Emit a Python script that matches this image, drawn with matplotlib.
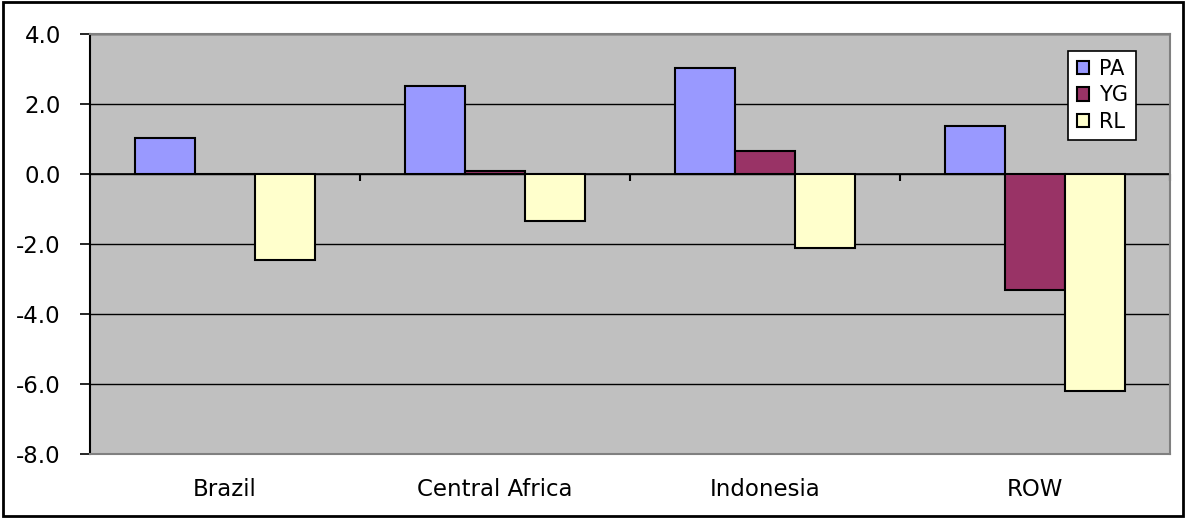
import matplotlib
matplotlib.use("Agg")
import matplotlib.pyplot as plt
import matplotlib.patches as mpatches
import numpy as np

regions = ["Brazil", "Central Africa", "Indonesia", "ROW"]
pa = [1.03, 2.52, 3.03, 1.37]
yg = [0.0, 0.10, 0.65, -3.31]
rl = [-2.46, -1.34, -2.11, -6.19]

series = [("PA", pa, "#9999FF"), ("YG", yg, "#993366"), ("RL", rl, "#FFFFCC")]
yticks = [-8.0, -6.0, -4.0, -2.0, 0.0, 2.0, 4.0]

plt.rcParams['font.family'] = ['DejaVu Sans']

fig = plt.figure(figsize=(11.86, 5.18), dpi=100)
ax = fig.add_axes([90 / 1186, 64 / 518, 1080 / 1186, 420 / 518])
ax.set_facecolor("#C0C0C0")

x = np.arange(len(regions))
w = 2 / 9
for i, (name, vals, col) in enumerate(series):
    ax.bar(x + (i - 1) * w, vals, w, color=col, edgecolor="black",
           linewidth=1.5, label=name, zorder=3)

ax.set_xlim(-0.5, len(regions) - 0.5)
ax.set_ylim(yticks[0], yticks[-1])
ax.set_yticks(yticks)
ax.set_yticklabels(["%.1f" % v for v in yticks])
ax.yaxis.grid(True, color="black", linewidth=1, zorder=1)
ax.set_axisbelow(True)

ax.set_xticks(x)
ax.set_xticklabels(regions)
ax.tick_params(axis="x", length=0, pad=17, labelsize=16.5)
ax.tick_params(axis="y", length=7, width=1.2, pad=14, labelsize=16.5, direction="out")

for s in ["top", "right", "bottom"]:
    ax.spines[s].set_color("#808080")
    ax.spines[s].set_linewidth(1.5)
ax.spines["left"].set_color("black")
ax.spines["left"].set_linewidth(1.5)

# category axis crossing at zero, with ticks between the groups
zero_ax = ax.secondary_xaxis(0, transform=ax.transData)
zero_ax.set_xticks(list(x + 0.5))
zero_ax.tick_params(axis="x", length=5, width=1.5, direction="out", labelbottom=False)
zero_ax.spines["bottom"].set_color("black")
zero_ax.spines["bottom"].set_linewidth(1.2)

leg = ax.legend(loc="upper right", bbox_to_anchor=(0.9685, 0.96), fontsize=15,
                frameon=True, fancybox=False, edgecolor="black",
                handlelength=0.6, handleheight=0.6, handletextpad=0.45,
                labelspacing=0.3, borderpad=0.4, borderaxespad=0)
leg.get_frame().set_linewidth(1.2)
leg.get_frame().set_facecolor("white")
leg.get_frame().set_alpha(1)

# outer chart border
fig.patches.append(mpatches.Rectangle((3 / 1186, 2 / 518), 1180 / 1186, 514 / 518,
                                      transform=fig.transFigure, fill=False,
                                      edgecolor="black", linewidth=2))

fig.savefig("out.png", dpi=100)
